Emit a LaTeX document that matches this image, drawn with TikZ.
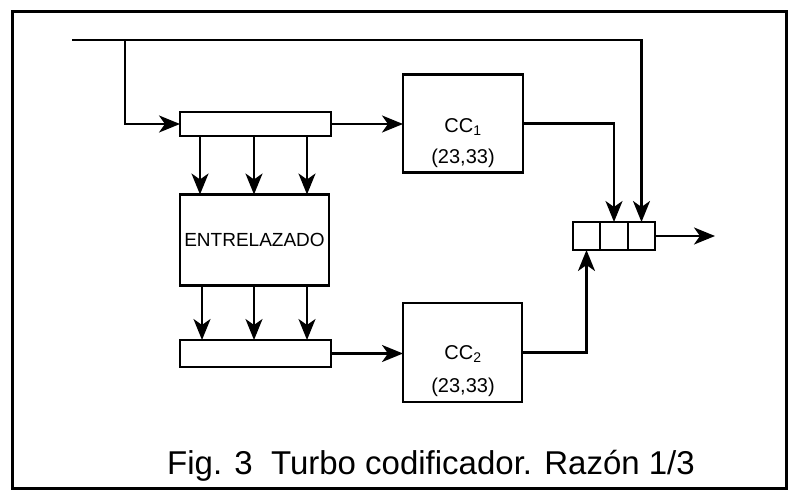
\documentclass[tikz,border=0pt]{standalone}
\usepackage{fontspec}
\setmainfont{Liberation Sans}
\usetikzlibrary{positioning,arrows.meta}

\begin{document}
\begin{tikzpicture}[x=1pt,y=-1pt,
  blk/.style={draw,line width=2.2pt,inner sep=0pt,outer sep=0pt},
  lbl/.style={font=\fontsize{20}{22}\selectfont},
  cell/.style={blk,minimum width=27.5pt,minimum height=28pt},
  sig/.style={line width=2.4pt,-{Stealth[length=21pt,width=17pt,inset=6pt]}}]
\useasboundingbox (0,0) rectangle (790,492);
% Outer frame
\draw[line width=3pt] (12,12) rectangle (786,488);
% Registers and interleaver
\node[blk,minimum width=151pt,minimum height=24pt] (reg1) at (255.5,124) {};
\node[blk,minimum width=149pt,minimum height=91pt,font=\fontsize{19}{21}\selectfont] (inter) at (254.5,240) {ENTRELAZADO};
\node[blk,minimum width=151pt,minimum height=27pt] (reg2) at (255.5,353.5) {};
% Constituent encoders
\node[blk,minimum width=120pt,minimum height=98pt] (cc1) at (463,123.5) {};
\node[lbl] (cc1a) at (463,127) {CC\textsubscript{1}};
\node[lbl] (cc1b) at (463,158) {(23,33)};
\node[blk,minimum width=119pt,minimum height=99pt] (cc2) at (462.5,352.5) {};
\node[lbl] (cc2a) at (463,354) {CC\textsubscript{2}};
\node[lbl] (cc2b) at (463,387) {(23,33)};
% Output multiplexer
\node[cell] (m1) at (586.5,236) {};
\node[cell,right=0pt of m1] (m2) {};
\node[cell,right=0pt of m2] (m3) {};
\coordinate (in) at (72,40);
\coordinate (tap) at (125,40);
\coordinate (out) at (715,236);
% Connections
\draw[sig] (in) -| (m3.north);
\draw[sig] (tap) |- (reg1.west);
\draw[sig] (reg1.east) -- (cc1.west |- reg1.east);
\foreach \x in {200,254,307}
  \draw[sig] (reg1.south -| \x,0) -- (inter.north -| \x,0);
\foreach \x in {202,254,307}
  \draw[sig] (inter.south -| \x,0) -- (reg2.north -| \x,0);
\draw[sig] (reg2.east) -- (cc2.west |- reg2.east);
\draw[sig] (cc1.east) -| (m2.north);
\draw[sig] (cc2.east) -| (m1.south);
\draw[sig] (m3.east) -- (out);
% Caption
\node[font=\fontsize{33}{37}\selectfont] (cap) at (431,466) {Fig. 3~~Turbo codificador. Razón 1/3};
\end{tikzpicture}
\end{document}
